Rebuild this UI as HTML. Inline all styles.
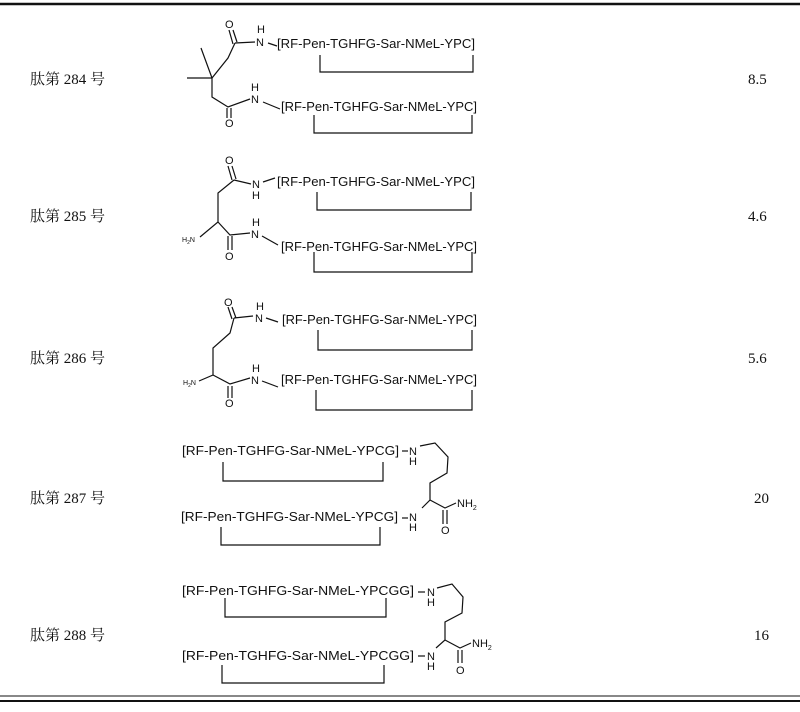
<!DOCTYPE html>
<html><head><meta charset="utf-8"><style>
html,body{margin:0;padding:0;background:#fff;}
svg{display:block;}
.p{font-family:"Liberation Sans",Arial,sans-serif;font-size:12.5px;fill:#111;}
.a{font-family:"Liberation Sans",Arial,sans-serif;font-size:11px;fill:#111;}
.s{font-family:"Liberation Sans",Arial,sans-serif;font-size:7px;fill:#111;}
.l{font-family:"Liberation Serif","Noto Serif CJK SC",serif;font-size:15px;fill:#111;}
.v{font-family:"Liberation Serif",serif;font-size:15px;fill:#111;}
</style></head><body>
<svg width="800" height="712" viewBox="0 0 800 712" xmlns="http://www.w3.org/2000/svg">
<g stroke="#111" fill="none" stroke-width="1.2">
<line x1="0" y1="4" x2="800" y2="4" stroke-width="2.5"/>
<line x1="0" y1="696" x2="800" y2="696" stroke-width="1"/>
<line x1="0" y1="701" x2="800" y2="701" stroke-width="2"/>
<!-- 284 -->
<path d="M320 55 V72 H473 V55"/><path d="M314 115 V133 H472 V115"/>
<path d="M229 30 L233 44"/><path d="M233 30 L237 42"/>
<path d="M235 43 L255 42"/><path d="M268 43 L277 46"/>
<path d="M235 43 L228 58 L212 78 L201 48"/><path d="M212 78 L187 78"/><path d="M212 78 L212 97 L228 107 L250 99"/><path d="M263 102 L280 109"/>
<path d="M227 108 V118"/><path d="M231 108 V118"/>
<!-- 285 -->
<path d="M317 192 V210 H471 V192"/><path d="M314 252 V272 H472 V252"/>
<path d="M228 166 L232 180"/><path d="M232 166 L236 179"/>
<path d="M234 180 L251 184"/><path d="M263 182 L275 178"/>
<path d="M234 180 L218 193 L218 222 L200 237"/><path d="M218 222 L230 235 L250 233"/><path d="M262 236 L278 245"/>
<path d="M228 236 V250"/><path d="M232 236 V250"/>
<!-- 286 -->
<path d="M318 330 V350 H472 V330"/><path d="M316 390 V410 H472 V390"/>
<path d="M228 307 L232 319"/><path d="M232 307 L236 318"/>
<path d="M234 318 L253 316"/><path d="M266 318 L278 322"/>
<path d="M234 318 L230 333 L213 348 L213 375 L199 381"/><path d="M213 375 L230 384 L250 378"/><path d="M262 381 L278 387"/>
<path d="M228 386 V398"/><path d="M232 386 V398"/>
<!-- 287 -->
<path d="M223 462 V481 H383 V462"/><path d="M221 527 V545 H380 V527"/>
<path d="M420 446 L435 443 L448 457 L447 473 L430 483 L430 500 L422 508"/>
<path d="M430 500 L445 508 L456 503"/><path d="M443 510 V524"/><path d="M447 510 V524"/>
<path d="M402 451 H408"/><path d="M402 518 H408"/>
<!-- 288 -->
<path d="M225 598 V617 H386 V598"/><path d="M222 665 V683 H384 V665"/>
<path d="M437 588 L452 584 L463 597 L462 613 L445 622 L445 640 L436 648"/>
<path d="M445 640 L460 648 L471 643"/><path d="M458 650 V663"/><path d="M462 650 V663"/>
<path d="M418 592 H425"/><path d="M418 656 H425"/>
</g>
<!-- labels -->
<text class="l" x="30" y="84">肽第 284 号</text>
<text class="l" x="30" y="221">肽第 285 号</text>
<text class="l" x="30" y="363">肽第 286 号</text>
<text class="l" x="30" y="503">肽第 287 号</text>
<text class="l" x="30" y="640">肽第 288 号</text>
<text class="v" x="748" y="84">8.5</text>
<text class="v" x="748" y="221">4.6</text>
<text class="v" x="748" y="363">5.6</text>
<text class="v" x="754" y="503">20</text>
<text class="v" x="754" y="640">16</text>
<!-- 284 -->
<text class="p" x="277" y="48" textLength="198" lengthAdjust="spacingAndGlyphs">[RF-Pen-TGHFG-Sar-NMeL-YPC]</text>
<text class="p" x="281" y="111" textLength="196" lengthAdjust="spacingAndGlyphs">[RF-Pen-TGHFG-Sar-NMeL-YPC]</text>
<text class="a" x="225" y="28">O</text><text class="a" x="256" y="46">N</text><text class="a" x="257" y="33">H</text>
<text class="a" x="251" y="103">N</text><text class="a" x="251" y="91">H</text><text class="a" x="225" y="127">O</text>
<!-- 285 -->
<text class="p" x="277" y="186" textLength="198" lengthAdjust="spacingAndGlyphs">[RF-Pen-TGHFG-Sar-NMeL-YPC]</text>
<text class="p" x="281" y="251" textLength="196" lengthAdjust="spacingAndGlyphs">[RF-Pen-TGHFG-Sar-NMeL-YPC]</text>
<text class="a" x="225" y="164">O</text><text class="a" x="252" y="188">N</text><text class="a" x="252" y="199">H</text>
<text class="a" x="251" y="238">N</text><text class="a" x="252" y="226">H</text><text class="a" x="225" y="260">O</text>
<text class="s" x="182" y="242">H<tspan font-size="5" dy="2">2</tspan><tspan dy="-2">N</tspan></text>
<!-- 286 -->
<text class="p" x="282" y="324" textLength="195" lengthAdjust="spacingAndGlyphs">[RF-Pen-TGHFG-Sar-NMeL-YPC]</text>
<text class="p" x="281" y="384" textLength="196" lengthAdjust="spacingAndGlyphs">[RF-Pen-TGHFG-Sar-NMeL-YPC]</text>
<text class="a" x="224" y="306">O</text><text class="a" x="255" y="322">N</text><text class="a" x="256" y="310">H</text>
<text class="a" x="251" y="384">N</text><text class="a" x="252" y="372">H</text><text class="a" x="225" y="407">O</text>
<text class="s" x="183" y="385">H<tspan font-size="5" dy="2">2</tspan><tspan dy="-2">N</tspan></text>
<!-- 287 -->
<text class="p" x="182" y="455" textLength="217" lengthAdjust="spacingAndGlyphs">[RF-Pen-TGHFG-Sar-NMeL-YPCG]</text>
<text class="p" x="181" y="521" textLength="217" lengthAdjust="spacingAndGlyphs">[RF-Pen-TGHFG-Sar-NMeL-YPCG]</text>
<text class="a" x="409" y="455">N</text><text class="a" x="409" y="465">H</text>
<text class="a" x="409" y="521">N</text><text class="a" x="409" y="531">H</text>
<text class="a" x="457" y="507">NH<tspan font-size="7" dy="3">2</tspan></text>
<text class="a" x="441" y="534">O</text>
<!-- 288 -->
<text class="p" x="182" y="595" textLength="232" lengthAdjust="spacingAndGlyphs">[RF-Pen-TGHFG-Sar-NMeL-YPCGG]</text>
<text class="p" x="182" y="660" textLength="232" lengthAdjust="spacingAndGlyphs">[RF-Pen-TGHFG-Sar-NMeL-YPCGG]</text>
<text class="a" x="427" y="596">N</text><text class="a" x="427" y="606">H</text>
<text class="a" x="427" y="660">N</text><text class="a" x="427" y="670">H</text>
<text class="a" x="472" y="647">NH<tspan font-size="7" dy="3">2</tspan></text>
<text class="a" x="456" y="674">O</text>
</svg>
</body></html>
